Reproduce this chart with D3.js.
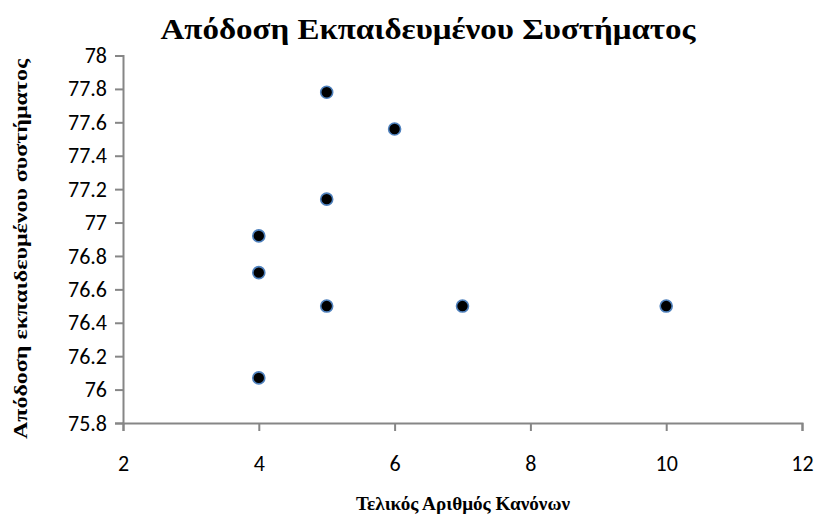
<!DOCTYPE html>
<html>
<head>
<meta charset="utf-8">
<script src="https://cdn.jsdelivr.net/npm/d3@7"></script>
<style>
  html, body { margin: 0; padding: 0; background: #fff; }
  svg { display: block; }
</style>
</head>
<body>
<svg id="chart" width="817" height="524"></svg>
<script>
// Final rule count vs. trained-system performance
const ruleCounts  = [5, 6, 5, 4, 4, 5, 7, 10, 4];
const performance = [77.78, 77.56, 77.14, 76.92, 76.70, 76.50, 76.50, 76.50, 76.07];
const xTicks = [2, 4, 6, 8, 10, 12];
const yTicks = [75.8, 76, 76.2, 76.4, 76.6, 76.8, 77, 77.2, 77.4, 77.6, 77.8, 78];

const titleText = "Απόδοση Εκπαιδευμένου Συστήματος";
const xTitle = "Τελικός Αριθμός Κανόνων";
const yTitle = "Απόδοση εκπαιδευμένου συστήματος";

const svg = d3.select("#chart");
const plot = { left: 123, right: 802, top: 55.5, bottom: 423 };

const x = d3.scaleLinear().domain([2, 12]).range([plot.left, plot.right]);
const y = d3.scaleLinear().domain([75.8, 78]).range([plot.bottom, plot.top]);

const axisColor = "#868686";
const tickFont = "Carlito, Lato, 'Liberation Sans', sans-serif";
const serif = "'Liberation Serif', 'DejaVu Serif', serif";

// Y axis
const gy = svg.append("g")
  .attr("transform", `translate(${plot.left},0)`)
  .call(d3.axisLeft(y).tickValues(yTicks).tickSize(8).tickPadding(8)
        .tickFormat(d => d3.format("~g")(d)));
gy.select(".domain").attr("stroke", axisColor).attr("stroke-width", 2);
gy.selectAll(".tick line").attr("stroke", axisColor).attr("stroke-width", 2);
gy.selectAll(".tick text").attr("font-family", tickFont).attr("font-size", 22).attr("fill", "#000");

// X axis
const gx = svg.append("g")
  .attr("transform", `translate(0,${plot.bottom})`)
  .call(d3.axisBottom(x).tickValues(xTicks).tickSize(8).tickPadding(24));
gx.select(".domain").attr("stroke", axisColor).attr("stroke-width", 2);
gx.selectAll(".tick line").attr("stroke", axisColor).attr("stroke-width", 2);
gx.selectAll(".tick text").attr("font-family", tickFont).attr("font-size", 22).attr("fill", "#000");

// Points
svg.append("g").selectAll("circle")
  .data(ruleCounts.map((d, i) => ({ x: d, y: performance[i] })))
  .join("circle")
  .attr("cx", d => x(d.x))
  .attr("cy", d => y(d.y))
  .attr("r", 6)
  .attr("fill", "#000")
  .attr("stroke", "#4f81bd")
  .attr("stroke-width", 1.6);

// Titles
svg.append("text")
  .attr("x", 428).attr("y", 39)
  .attr("text-anchor", "middle")
  .attr("font-family", serif).attr("font-weight", "bold").attr("font-size", 30)
  .attr("textLength", 535).attr("lengthAdjust", "spacingAndGlyphs")
  .text(titleText);

svg.append("text")
  .attr("x", 463).attr("y", 510)
  .attr("text-anchor", "middle")
  .attr("font-family", serif).attr("font-weight", "bold").attr("font-size", 18)
  .attr("textLength", 214).attr("lengthAdjust", "spacingAndGlyphs")
  .text(xTitle);

svg.append("text")
  .attr("transform", `translate(27,249) rotate(-90)`)
  .attr("text-anchor", "middle")
  .attr("font-family", serif).attr("font-weight", "bold").attr("font-size", 18)
  .attr("textLength", 380).attr("lengthAdjust", "spacingAndGlyphs")
  .text(yTitle);
</script>
</body>
</html>
